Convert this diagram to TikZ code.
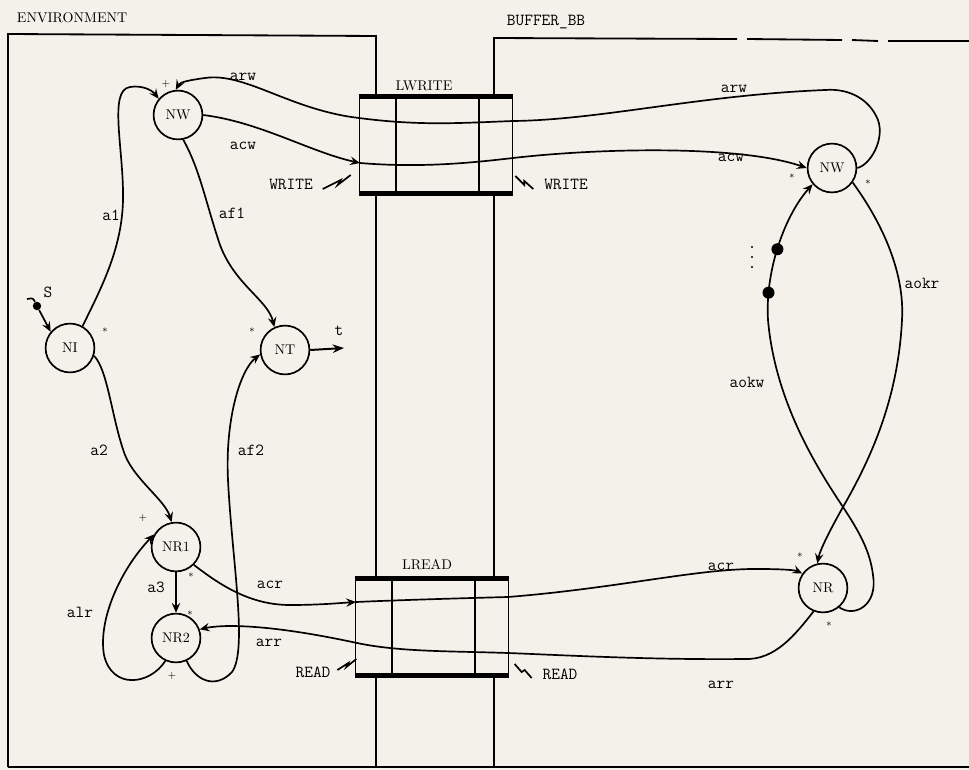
\documentclass[tikz,border=0pt]{standalone}
\usepackage{tikz}
\usetikzlibrary{arrows.meta,calc}
\definecolor{paper}{RGB}{243,241,234}

\begin{document}
\begin{tikzpicture}[x=0.025cm, y=-0.025cm,
    place/.style={draw, circle, line width=1.2pt, minimum size=1.22cm, inner sep=0pt, font=\normalsize},
    link/.style={line width=1.2pt, -{Stealth[length=7pt,width=6pt,inset=2.5pt]}},
    zap/.style={line width=1.2pt},
    lab/.style={font=\large\ttfamily},
    sym/.style={font=\scriptsize, inner sep=1pt},
    dot/.style={circle, fill, inner sep=0pt, minimum size=0.3cm},
    buf/.style={draw, line width=1.2pt, fill=paper, minimum width=3.82cm, minimum height=2.4cm}]

  \useasboundingbox (0,0) rectangle (969,770);
  \fill[paper] (0,0) rectangle (969,770);

  % frames
  \draw[line width=1.3pt] (8,767) -- (8,34) -- (376,36) -- (376,767);
  \draw[line width=1.3pt] (494,767) -- (494,38) -- (737,39);
  \draw[line width=1.3pt] (747,39) -- (842,40) (852,40) -- (878,41) (888,41) -- (969,41);
  \draw[line width=1.3pt] (8,767) -- (969,767);
  \node[anchor=west] (env) at (12,18) {ENVIRONMENT};
  \node[anchor=west, font=\large\ttfamily] (bb) at (502,22) {BUFFER\_BB};

  % the two buffers
  \node[buf] (lw) at (436,145) {};
  \node[buf] (lr) at (432,627) {};
  \foreach \b in {lw,lr} {
    \foreach \f in {0.24,0.78}
      \draw[line width=1.2pt] ($(\b.north west)!\f!(\b.north east)$) -- ($(\b.south west)!\f!(\b.south east)$);
    \draw[line width=3.5pt] (\b.north west) -- (\b.north east);
    \draw[line width=3.5pt] (\b.south west) -- (\b.south east);
  }
  \node (lwl) at (424,86) {LWRITE};
  \node (lrl) at (427,565) {LREAD};

  % places
  \node[place] (nwl) at (178,115) {NW};
  \node[place] (ni) at (70,348) {NI};
  \node[place] (nt) at (285,350) {NT};
  \node[place] (nr1) at (176,547) {NR1};
  \node[place] (nr2) at (176,638) {NR2};
  \node[place] (nwr) at (832,168) {NW};
  \node[place] (nr) at (823,588) {NR};

  \coordinate (lwin) at (360,163);
  \coordinate (lrin) at (356,602);
  \coordinate (tend) at (344,348);
  \coordinate (stail) at (27,299);

  % left side
  \node[circle, fill, inner sep=0pt, minimum size=6pt] (s) at (37,306) {};
  \draw[line width=1.2pt] (stail) .. controls (33,298) .. (s);
  \draw[link] (s) -- (ni.140);
  \node[lab] (sl) at (48,292) {S};
  \draw[link] (ni.60) .. controls (100,290) and (122,250) .. (123,200)
     .. controls (124,150) and (108,90) .. (130,87)
     .. controls (142,85) and (152,90) .. (nwl.140);
  \draw[link] (nwl.-78) .. controls (200,170) and (205,200) .. (220,245)
     .. controls (235,285) and (268,300) .. (nt.115);
  \draw[line width=1.4pt, -{Stealth[length=8pt,width=6pt]}] (nt.east) -- (tend);
  \node[lab] (tl) at (339,331) {t};
  \draw[link] (ni.-18) .. controls (108,370) and (112,420) .. (125,455)
     .. controls (135,480) and (165,500) .. (nr1.100);
  \draw[link] (nr2.-65) .. controls (195,680) and (215,690) .. (232,672)
     .. controls (248,650) and (232,560) .. (228,480)
     .. controls (225,420) and (240,370) .. (nt.190);
  \draw[link] (nr2.-115) .. controls (150,685) and (112,690) .. (104,655)
     .. controls (98,620) and (120,570) .. (nr1.150);
  \draw[link] (nr1) -- (nr2);

  % through the buffers
  \draw[link] (nwr.east) .. controls (870,165) and (885,140) .. (878,120)
     .. controls (870,100) and (850,88) .. (825,90)
     .. controls (700,95) and (600,120) .. (513,121)
     .. controls (460,123) and (420,126) .. (359,118)
     .. controls (290,110) and (245,72) .. (205,78)
     .. controls (190,80) and (180,82) .. (nwl.95);
  \draw[link] (nwl.east) .. controls (260,122) and (310,152) .. (lwin);
  \draw[link] (lwin) .. controls (420,168) and (470,163) .. (513,158)
     .. controls (600,148) and (740,145) .. (nwr.west);
  \draw[link] (nr1.-45) .. controls (220,585) and (250,605) .. (290,605)
     .. controls (320,605) and (340,603) .. (lrin);
  \draw[link] (lrin) .. controls (400,600) and (470,598) .. (508,597)
     .. controls (620,588) and (700,568) .. (760,569)
     .. controls (780,569) and (795,570) .. (nr.145);
  \draw[link] (nr.-112) .. controls (795,635) and (775,660) .. (745,659)
     .. controls (650,660) and (560,655) .. (508,653)
     .. controls (450,651) and (400,652) .. (357,643)
     .. controls (320,635) and (270,626) .. (230,626)
     .. controls (220,626) and (210,627) .. (nr2.20);

  % right side
  \draw[link] (nwr.-35) .. controls (880,220) and (905,270) .. (902,320)
     .. controls (898,400) and (870,460) .. (843,507)
     .. controls (830,530) and (820,550) .. (nr.103);
  \draw[link] (nr.-50) .. controls (855,618) and (878,605) .. (873,575)
     .. controls (870,550) and (858,530) .. (843,507)
     .. controls (815,465) and (775,400) .. (768,320)
     .. controls (765,270) and (785,215) .. (nwr.-140)
     node[dot, pos=0.18] (k1) {} node[dot, pos=0.47] (k2) {};
  \foreach \yy in {247,257,267}
    \fill (752,\yy) circle (0.8pt);

  % arc labels
  \node[lab] (arwl) at (243,77) {arw};
  \node[lab] (acwl) at (243,146) {acw};
  \node[lab] (af1l) at (232,213) {af1};
  \node[lab] (a1l) at (111,215) {a1};
  \node[lab] (a2l) at (99,450) {a2};
  \node[lab] (af2l) at (251,450) {af2};
  \node[lab] (a3l) at (156,587) {a3};
  \node[lab] (alrl) at (80,612) {alr};
  \node[lab] (acrl) at (270,585) {acr};
  \node[lab] (arrl) at (269,643) {arr};
  \node[lab] (arwr) at (734,89) {arw};
  \node[lab] (acwr) at (731,158) {acw};
  \node[lab] (aokr) at (922,283) {aokr};
  \node[lab] (aokw) at (747,382) {aokw};
  \node[lab] (acrr) at (721,567) {acr};
  \node[lab] (arrr) at (721,685) {arr};

  % + and * marks
  \node[sym] (m1) at (166,84) {$+$};
  \node[sym] (m2) at (105,330) {$*$};
  \node[sym] (m3) at (252,330) {$*$};
  \node[sym] (m4) at (143,518) {$+$};
  \node[sym] (m5) at (191,575) {$*$};
  \node[sym] (m6) at (190,613) {$*$};
  \node[sym] (m7) at (172,676) {$+$};
  \node[sym] (m8) at (792,176) {$*$};
  \node[sym] (m9) at (868,182) {$*$};
  \node[sym] (m10) at (800,555) {$*$};
  \node[sym] (m11) at (829,624) {$*$};

  % WRITE / READ
  \node[lab] (wl) at (291,184) {WRITE};
  \node[lab] (wr) at (566,184) {WRITE};
  \node[lab] (rl) at (313,672) {READ};
  \node[lab] (rr) at (560,674) {READ};
  \draw[zap] (wl.east) ++(5,5) -- ++(18,-9) -- ++(-3,5) -- ++(13,-10);
  \draw[zap] (wr.west) ++(-6,5) -- ++(-9,-8) -- ++(0,4) -- ++(-9,-9);
  \draw[zap] (rl.east) ++(2,-2) -- ++(11,-7) -- ++(-2,4) -- ++(10,-8);
  \draw[zap] (rr.west) ++(-6,4) -- ++(-7,-8) -- ++(-3,2) -- ++(-7,-8);
\end{tikzpicture}
\end{document}
